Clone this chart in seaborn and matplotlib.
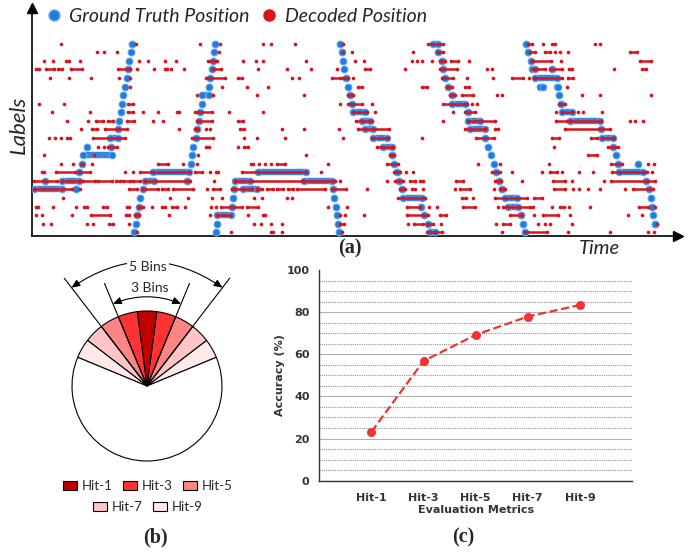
import numpy as np
import pandas as pd
import matplotlib
matplotlib.use("Agg")
import matplotlib.pyplot as plt
from matplotlib.patches import FancyArrowPatch, Patch
from matplotlib.lines import Line2D
from matplotlib.ticker import MultipleLocator
import seaborn as sns

# ── (a) data: label row (0 = bottom), time ──────────────────────────────────
gt_segments = [
    (5, 34, 62), (6, 45, 45), (6, 62, 79), (5, 76, 76), (7, 79, 79), (8, 82, 82), (9, 83, 112),
    (10, 87, 87), (10, 111, 111), (11, 110, 118), (12, 118, 118), (13, 119, 119), (14, 121, 121),
    (15, 122, 122), (16, 123, 123), (17, 125, 125), (18, 127, 127), (19, 128, 128), (20, 129, 129),
    (21, 131, 131), (22, 132, 132),
    (0, 134, 134), (1, 136, 136), (2, 137, 137), (3, 139, 139), (4, 140, 140), (5, 143, 143),
    (6, 145, 154), (7, 153, 189), (6, 187, 187), (8, 191, 191), (9, 192, 192), (10, 193, 193),
    (11, 196, 196), (12, 197, 197), (13, 199, 199), (14, 200, 200), (15, 202, 202), (16, 202, 209),
    (17, 209, 209), (18, 210, 210), (19, 212, 212), (20, 213, 213), (21, 214, 214), (22, 215, 215),
    (0, 216, 216), (1, 217, 217), (2, 217, 231), (3, 232, 232), (4, 233, 233), (5, 234, 234),
    (6, 235, 250), (5, 243, 257), (7, 258, 306), (6, 304, 332), (5, 333, 333), (4, 334, 334),
    (3, 336, 336), (2, 337, 337), (1, 338, 338), (0, 339, 339),
    (22, 340, 340), (21, 342, 342), (20, 343, 343), (19, 344, 344), (18, 346, 346), (17, 348, 348),
    (16, 350, 350), (15, 352, 352), (14, 353, 365), (13, 362, 370), (12, 365, 373), (11, 373, 387),
    (10, 383, 392), (9, 392, 392), (8, 394, 394), (7, 397, 397), (6, 399, 399), (5, 402, 402),
    (4, 403, 422), (3, 421, 421), (2, 424, 424), (1, 428, 428), (0, 430, 435),
    (22, 433, 438), (21, 438, 438), (20, 442, 442), (19, 443, 443), (18, 445, 445), (17, 448, 448),
    (16, 452, 452), (15, 452, 465), (14, 468, 468), (13, 468, 480), (12, 470, 485), (11, 485, 485),
    (10, 488, 488), (9, 491, 491), (8, 494, 494), (7, 496, 496), (6, 499, 499), (5, 502, 502),
    (4, 505, 517), (3, 508, 518), (2, 521, 521), (1, 523, 523), (0, 525, 525),
    (22, 526, 526), (21, 528, 528), (20, 531, 531), (19, 532, 535), (19, 552, 552), (18, 535, 557),
    (17, 540, 543), (17, 557, 558), (16, 559, 559), (15, 561, 561), (14, 562, 572), (13, 570, 600),
    (12, 601, 601), (11, 602, 613), (10, 613, 613), (9, 616, 616), (8, 618, 618), (8, 638, 638),
    (7, 619, 643), (6, 646, 646), (5, 649, 649), (4, 651, 651), (3, 652, 652), (2, 653, 653),
    (1, 655, 655),
]

# decoded positions, one list per row: single time or (start, end) run
decoded = [
    [137, 231, (271, 273), 282, 342, (427, 442), 502, (525, 547), 568, 610, 648, 654],
    [43, 51, 87, 93, (109, 113), 129, 254, 261, 271, 282, (340, 344), 408, (414, 423), (427, 433),
     441, 496, (503, 510), 538, 545, 550, 572, 657],
    [36, 42, 72, (91, 110), (126, 129), (135, 139), 169, 210, (217, 230), 248, (263, 265), 340, 345,
     364, (407, 428), (440, 446), (510, 522), 534, (543, 558), 570, 628, 642],
    [(36, 38), 53, 76, (84, 87), (103, 107), (127, 129), (138, 143), 152, (162, 165), (172, 177), 185,
     211, 216, (221, 242), (247, 258), 328, 347, (407, 420), 429, 437, (463, 475), 498, (503, 530),
     533, 552, (560, 564), 569, 590, (639, 648), 655],
    [63, 170, 188, 212, 222, 254, 262, 287, 292, (398, 425), (462, 466), 473, (495, 527), (534, 542)],
    [(34, 72), 80, (129, 137), (142, 158), (162, 168), (173, 193), 207, (213, 220), (232, 252),
     (257, 262), (267, 273), (277, 283), (288, 293), (297, 325), (332, 346), 367, (400, 405),
     (412, 415), 423, 455, (460, 470), 494, (500, 505), (554, 565), 573, 579, 588, 600, 625, (633, 653)],
    [(34, 57), (62, 80), (83, 95), (98, 112), (116, 120), (123, 130), (133, 140), (145, 190), 214,
     (235, 302), (304, 335), 340, 387, (395, 403), (410, 415), (420, 423), (456, 463), (495, 501),
     522, (553, 565), 572, 604, (611, 655)],
    [(42, 44), (56, 75), (79, 90), 125, 133, (140, 190), (195, 202), 210, (216, 218), (242, 306), 321,
     (394, 400), 406, 413, (492, 500), 512, 542, (550, 557), 562, 579, 593, (612, 647), 652],
    [61, 73, (81, 83), 92, (158, 168), 183, 197, (251, 253), 259, 265, 271, (277, 285), 328,
     (387, 398), 478, 500, 549, (611, 622), 648, 654],
    [44, 94, 198, 306, (390, 394), (588, 597)],
    [98, 104, (108, 117), (206, 209), 238, (244, 248), (377, 393), 554, (608, 618)],
    [49, 55, 61, (67, 70), (93, 125), (192, 213), 244, 257, 285, 343, (372, 388), 422, (476, 494),
     (552, 559), (591, 597), (602, 614)],
    [81, (92, 97), (105, 127), 179, (195, 198), 206, 210, (240, 244), 282, 304, 339, (358, 389),
     (465, 485), (495, 498), (565, 610)],
    [67, 88, (96, 103), (108, 113), (127, 134), 153, 163, (197, 212), (238, 243), (356, 372), 443,
     (468, 495), (556, 567), (570, 601), 630, 635, 643],
    [52, 90, (128, 133), 143, 158, (177, 179), 195, (198, 212), 229, 263, (353, 367), 375, 453,
     (465, 475), 556, (562, 573), 578, 583, 602],
    [39, 64, (128, 133), 340, (348, 362), 372, (443, 467), 472, 477, (559, 565)],
    [197, 213, 257, 304, (348, 353), (450, 455), (462, 473), 497, 502, 582, 600, 651],
    [130, 222, 247, 268, (358, 362), (422, 427), (447, 452), (465, 469), 567],
    [50, 69, 91, 119, 130, (206, 225), (238, 242), 292, 299, (332, 340), (343, 348), 353, (442, 453),
     467, 493, (512, 523), 529, (534, 562), (568, 573)],
    [(36, 39), (46, 54), (58, 62), (71, 82), (118, 130), 137, 154, (165, 167), 171, 184, (213, 221),
     258, 287, 311, 337, (365, 370), 405, (440, 457), 487, 492, (533, 545), (550, 562), (569, 572),
     614, (642, 646)],
    [44, 53, (66, 69), 80, 139, 148, 165, 176, (208, 217), 243, 256, 263, 306, 355, 364, 412, 417, 422,
     432, (440, 445), (451, 458), 469, (532, 551), 561, (640, 651)],
    [97, 104, 117, 219, 343, 352, 413, (437, 443), (530, 535), (545, 550), 555, 560, 568, (630, 637)],
    [61, 136, 200, 220, 263, 271, 295, 343, (428, 443), (528, 532), 543, 552, 555, 595, 600],
]

# ── (b) data ──────────────────────────────────────────────────────────────────
hit_names = ["Hit-1", "Hit-3", "Hit-5", "Hit-7", "Hit-9"]
hit_colors = ["#C00000", "#FF3333", "#FF8585", "#FFC4C4", "#FFE8E8"]
n_bins = 24
bin_hits = [4, 3, 2, 1, 0, 1, 2, 3, 4]      # index into hit_names, right to left

# ── (c) data ──────────────────────────────────────────────────────────────────
metrics = ["Hit-1", "Hit-3", "Hit-5", "Hit-7", "Hit-9"]
accuracy = [23.2, 56.8, 69.2, 77.9, 83.4]

BLUE = "#1F7BDF"
RED = "#D9141E"
W, H = 694, 552


def box(x0, y0, x1, y1):
    return [x0 / W, 1 - y1 / H, (x1 - x0) / W, (y1 - y0) / H]


sns.set_theme(style="white")
plt.rcParams["font.family"] = ["Lato", "DejaVu Sans"]
fig = plt.figure(figsize=(W / 100, H / 100), dpi=100)

# ── Panel (a) ─────────────────────────────────────────────────────────────────
ax_a = fig.add_axes(box(32, 8, 678, 236))
gt = pd.DataFrame(gt_segments, columns=["row", "t0", "t1"])
gt_pts = pd.concat([gt[["row", "t0"]].rename(columns={"t0": "t"}),
                    gt[["row", "t1"]].rename(columns={"t1": "t"})])
runs = gt[gt.t1 > gt.t0]
lc = ax_a.hlines(runs.row, runs.t0, runs.t1, color=BLUE, lw=4.6, alpha=0.9)
lc.set_capstyle("round")
sns.scatterplot(data=gt_pts, x="t", y="row", ax=ax_a, color=BLUE, s=24,
                edgecolor="#6FB0F2", linewidth=0.6, zorder=3)

dec_pts, dec_runs = [], []
for row, items in enumerate(decoded):
    for it in items:
        if isinstance(it, tuple):
            dec_runs.append((row, it[0], it[1]))
            dec_pts += [(row, it[0]), (row, it[1])]
        else:
            dec_pts.append((row, it))
dec_pts = pd.DataFrame(dec_pts, columns=["row", "t"])
dec_runs = pd.DataFrame(dec_runs, columns=["row", "t0", "t1"])
lc = ax_a.hlines(dec_runs.row, dec_runs.t0, dec_runs.t1, color=RED, lw=1.8, zorder=4)
lc.set_capstyle("round")
sns.scatterplot(data=dec_pts, x="t", y="row", ax=ax_a, color=RED, s=7,
                linewidth=0, zorder=5)

ax_a.set_xlim(32, 678)
ax_a.set_ylim(-0.43, 26.17)
ax_a.set_xticks([])
ax_a.set_yticks([])
ax_a.set_xlabel("")
ax_a.set_ylabel("")
for s in ["top", "right"]:
    ax_a.spines[s].set_visible(False)
for s in ["left", "bottom"]:
    ax_a.spines[s].set_color("black")
    ax_a.spines[s].set_linewidth(1.2)
ax_a.plot(1, 0, ">", color="black", ms=7, transform=ax_a.transAxes, clip_on=False)
ax_a.plot(0, 1, "^", color="black", ms=7, transform=ax_a.transAxes, clip_on=False)

handles = [Line2D([], [], marker="o", ls="", color=BLUE, mec="#6FB0F2", ms=8, label="Ground Truth Position"),
           Line2D([], [], marker="o", ls="", color=RED, ms=8, label="Decoded Position")]
fig.legend(handles=handles, loc="center left", bbox_to_anchor=(44 / W, 1 - 16 / H), ncol=2,
           frameon=False, borderpad=0, borderaxespad=0, handletextpad=0.3,
           columnspacing=0.5, handlelength=1.0, prop={"size": 14, "style": "italic"})
fig.text(19 / W, 1 - 125 / H, "Labels", rotation=90, ha="center", va="center",
         fontsize=16, style="italic")
fig.text(599 / W, 1 - 248 / H, "Time", ha="center", va="center", fontsize=14.5, style="italic")

# ── Panel (b) ─────────────────────────────────────────────────────────────────
ax_b = fig.add_axes(box(0, 250, 300, 470))
sizes = [1] * len(bin_hits) + [n_bins - len(bin_hits)]
colors = [hit_colors[i] for i in bin_hits] + ["white"]
step = 360 / n_bins
start = 90 - step * len(bin_hits) / 2
ax_b.pie(sizes, colors=colors, startangle=start, radius=75, center=(0, 0),
         wedgeprops={"edgecolor": "black", "linewidth": 0.8})
ax_b.set_xlim(-147, 153)
ax_b.set_ylim(-84, 136)
ax_b.set_aspect("auto")
ax_b.axis("off")

for k, r_line, r_arc, rad in [(3, 111, 89, 0.199), (5, 136, 124, 0.339)]:
    a1 = np.radians(90 - step * k / 2)
    a2 = np.radians(90 + step * k / 2)
    for a in (a1, a2):
        ax_b.plot([0, r_line * np.cos(a)], [0, r_line * np.sin(a)], color="black", lw=0.8)
    arr = FancyArrowPatch((r_arc * np.cos(a1), r_arc * np.sin(a1)),
                          (r_arc * np.cos(a2), r_arc * np.sin(a2)),
                          connectionstyle=f"arc3,rad={rad}",
                          arrowstyle="<|-|>,head_length=0.5,head_width=0.22",
                          mutation_scale=10, color="black", lw=0.8, shrinkA=0, shrinkB=0)
    ax_b.add_patch(arr)
ax_b.text(3, 98, "3 Bins", ha="center", va="center", fontsize=10)
ax_b.text(1, 119, "5 Bins", ha="center", va="center", fontsize=10,
          bbox={"facecolor": "white", "edgecolor": "none", "pad": 1.5})

patches = [Patch(facecolor=c, edgecolor="black", lw=0.8, label=n) for n, c in zip(hit_names, hit_colors)]
leg_kw = dict(frameon=False, handlelength=1.06, handleheight=0.63, handletextpad=0.38,
              columnspacing=0.76, borderpad=0, borderaxespad=0, prop={"size": 9.5}, loc="center")
fig.legend(handles=patches[:3], ncol=3, bbox_to_anchor=(148 / W, 1 - 486 / H), **leg_kw)
fig.legend(handles=patches[3:], ncol=2, bbox_to_anchor=(148 / W, 1 - 507 / H), **leg_kw)

# ── Panel (c) ─────────────────────────────────────────────────────────────────
ax_c = fig.add_axes(box(319.3, 270, 632, 480.7))
df_c = pd.DataFrame({"pos": np.arange(1, len(metrics) + 1), "acc": accuracy})
sns.lineplot(data=df_c, x="pos", y="acc", ax=ax_c, color="#F03434", lw=1.6, ls="--",
             marker="o", markersize=6.5, markeredgewidth=0, zorder=5)
ax_c.set_xlim(0, len(metrics) + 1)
ax_c.set_ylim(0, 100)
tick_font = {"family": "DejaVu Sans", "weight": "bold", "size": 8, "color": "#333333"}
ax_c.set_xticks(df_c.pos, metrics, fontdict=tick_font)
yt = list(range(0, 101, 20))
ax_c.set_yticks(yt, [str(v) for v in yt], fontdict=tick_font)
ax_c.xaxis.set_minor_locator(MultipleLocator(0.2))
ax_c.yaxis.set_minor_locator(MultipleLocator(5))
ax_c.grid(which="major", axis="y", color="#B0B0B0", lw=0.8, ls="-")
ax_c.grid(which="minor", axis="y", color="#909090", lw=0.8, ls=(0, (1, 1)))
for t in ax_c.yaxis.get_major_ticks():
    if t.get_loc() >= 100:
        t.gridline.set_visible(False)
for s in ["top", "right"]:
    ax_c.spines[s].set_visible(False)
for s in ["left", "bottom"]:
    ax_c.spines[s].set_color("#333333")
    ax_c.spines[s].set_linewidth(1.0)
ax_c.tick_params(axis="both", which="both", direction="out", color="#333333", width=0.8)
ax_c.tick_params(axis="y", which="both", length=3, pad=4)
ax_c.tick_params(axis="x", which="both", length=4, pad=5)
ax_c.set_xlabel("Evaluation Metrics", fontfamily="DejaVu Sans", fontweight="bold",
                fontsize=8, color="#333333")
ax_c.set_ylabel("Accuracy (%)", fontfamily="DejaVu Sans", fontweight="bold",
                fontsize=8, color="#333333")
ax_c.xaxis.set_label_coords((476 - 319.3) / 312.7, -(505 - 480.7) / 210.7)
ax_c.yaxis.set_label_coords(-(319.3 - 285) / 312.7, 0.5)

# ── panel tags ────────────────────────────────────────────────────────────────
for x, y, tag in [(350, 248, "(a)"), (155.5, 537, "(b)"), (463.5, 537, "(c)")]:
    fig.text(x / W, 1 - y / H, tag, ha="center", va="center", fontsize=14.5,
             fontweight="bold", fontfamily="Liberation Serif")

fig.savefig("out.png", dpi=100)
